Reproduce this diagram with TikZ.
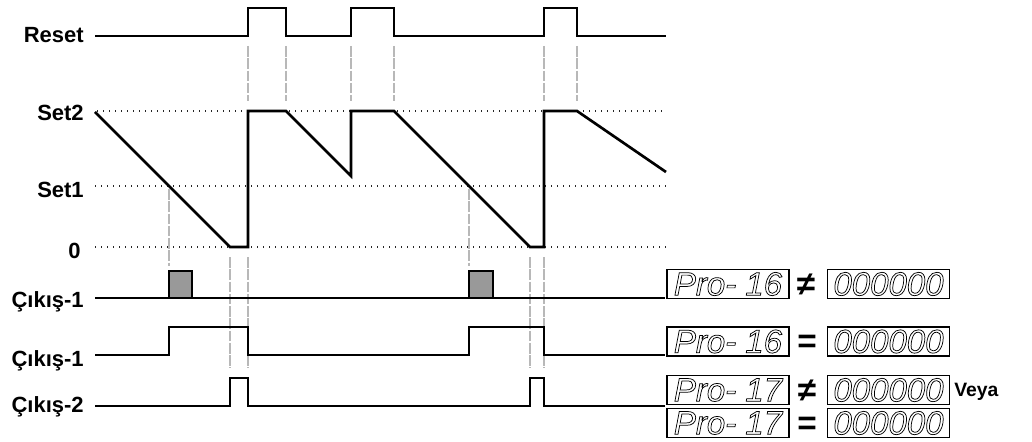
\documentclass[tikz,border=0pt]{standalone}
\usepackage{fontspec}
\setmainfont{Liberation Sans}
\newcommand\outlinetext[1]{\special{pdf:literal direct 1 Tr 0.55 w}#1\special{pdf:literal direct 0 Tr}}
\begin{document}
\begin{tikzpicture}[x=0.75pt,y=-0.75pt,
  sig/.style={line width=2pt, line join=miter},
  dots/.style={line width=1pt, dash pattern=on 0.9pt off 3.6pt, black!85},
  guide/.style={line width=0.8pt, black!28, dash pattern=on 8pt off 1.2pt},
  lbl/.style={font=\bfseries\fontsize{16.5}{18}\selectfont, inner sep=0pt, anchor=base east},
  segbox/.style={draw, line width=1.1pt, minimum width=91.5pt, minimum height=22pt, inner sep=0pt,
     font=\itshape\fontsize{24.75}{26}\selectfont},
  relsign/.style={inner sep=0pt, text height=17pt, text depth=0pt, font=\bfseries\fontsize{25}{26}\selectfont},
]
\useasboundingbox (0,0) rectangle (1032,442);

% labels
\node[lbl] (lreset) at (84,43) {Reset};
\node[lbl] (lset2) at (84,121) {Set2};
\node[lbl] (lset1) at (84,198) {Set1};
\node[lbl] (lzero) at (81,258) {0};
\node[lbl] (lout1a) at (84,307) {Çıkış-1};
\node[lbl] (lout1b) at (84,366) {Çıkış-1};
\node[lbl] (lout2) at (84,412) {Çıkış-2};

% dotted level lines
\draw[dots] (97,111) -- (666,111);
\draw[dots] (95,186) -- (666,186);
\draw[dots] (95,247) -- (666,247);

% guide lines
\foreach \x in {248,286,351,394,544,577} \draw[guide] (\x,46) -- (\x,101);
\foreach \x in {169,469} \draw[guide] (\x,189) -- (\x,266);
\foreach \x in {230,248,530,544} \draw[guide] (\x,257) -- (\x,368);

% Reset signal
\draw[sig] (95,36) -- (248,36) -- (248,8) -- (286,8) -- (286,36) -- (351,36) -- (351,8)
  -- (394,8) -- (394,36) -- (544,36) -- (544,8) -- (577,8) -- (577,36) -- (666,36);

% counter sawtooth
\draw[sig] (95,112) -- (230,247) -- (248,247) -- (248,111) -- (286,111) -- (351,176)
  -- (351,111) -- (394,111) -- (530,247) -- (544,247) -- (544,111) -- (577,111) -- (666,172);

% Cikis-1 (pulse)
\draw[sig] (95,298) -- (665,298);
\draw[sig, fill=black!40] (169,298) rectangle (192,271);
\draw[sig, fill=black!40] (469,298) rectangle (493,271);

% Cikis-1 (latched)
\draw[sig] (95,355) -- (169,355) -- (169,327) -- (248,327) -- (248,355) -- (469,355)
  -- (469,327) -- (544,327) -- (544,355) -- (665,355);

% Cikis-2
\draw[sig] (95,406) -- (230,406) -- (230,378) -- (248,378) -- (248,406) -- (530,406)
  -- (530,378) -- (544,378) -- (544,406) -- (665,406);

% displays
\node[segbox] (p1) at (728,284) {\outlinetext{Pro- 16}};
\node[relsign] (s1) at (806,284) {≠};
\node[segbox] (z1) at (888.5,284) {\outlinetext{000000}};

\node[segbox] (p2) at (728,341.5) {\outlinetext{Pro- 16}};
\node[relsign] (s2) at (807,341.5) {=};
\node[segbox] (z2) at (888.5,341.5) {\outlinetext{000000}};

\node[segbox] (p3) at (728,390) {\outlinetext{Pro- 17}};
\node[relsign] (s3) at (807,390) {≠};
\node[segbox] (z3) at (888.5,390) {\outlinetext{000000}};
\node[inner sep=0pt, anchor=base west, font=\bfseries\fontsize{14.5}{16}\selectfont] (veya) at (954,396) {Veya};

\node[segbox] (p4) at (728,423) {\outlinetext{Pro- 17}};
\node[relsign] (s4) at (807,423) {=};
\node[segbox] (z4) at (888.5,423) {\outlinetext{000000}};
\end{tikzpicture}
\end{document}
